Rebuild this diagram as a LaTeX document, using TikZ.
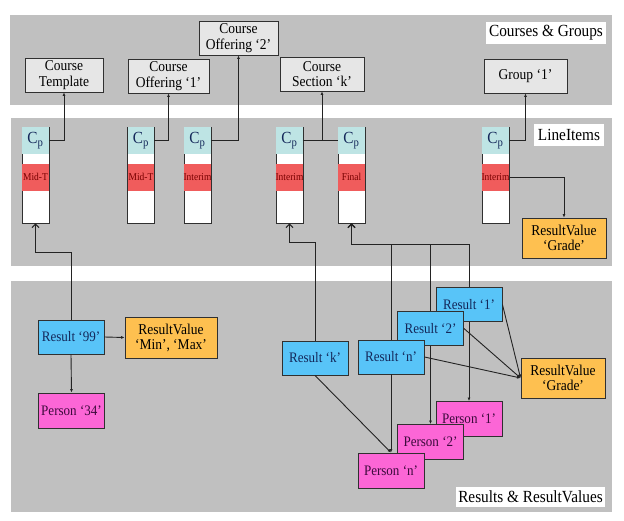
\documentclass[tikz,border=0pt]{standalone}
\usepackage{fontspec}
\setmainfont[FakeStretch=0.9]{Liberation Serif}
\usepackage{xcolor}
\usepackage{tikz}
\usetikzlibrary{positioning}
\usetikzlibrary{arrows.meta,shapes}
\usetikzlibrary{calc}
\definecolor{panelgray}{RGB}{192,192,192}
\definecolor{coursegray}{RGB}{230,230,230}
\definecolor{cpcyan}{RGB}{190,228,228}
\definecolor{gradered}{RGB}{240,92,92}
\definecolor{resultblue}{RGB}{88,196,248}
\definecolor{valueorange}{RGB}{254,192,80}
\definecolor{personpink}{RGB}{252,102,214}
\definecolor{boxline}{RGB}{48,48,48}
\definecolor{linegray}{RGB}{35,35,35}
\definecolor{navytext}{RGB}{20,40,90}
\definecolor{darkred}{RGB}{120,0,0}
\definecolor{purpletext}{RGB}{60,10,60}
\tikzstyle{tag}=[rectangle,fill=white,inner sep=0pt,font=\fontsize{17}{19}\selectfont]
\tikzstyle{course}=[rectangle,draw=boxline,line width=0.9pt,fill=coursegray,align=center,inner sep=0pt,minimum height=34pt,font=\fontsize{15}{15.5}\selectfont]
\tikzstyle{lineitem}=[rectangle,draw=boxline,line width=0.9pt,fill=white,minimum width=27pt,minimum height=96pt,inner sep=0pt]
\tikzstyle{cpcell}=[rectangle,fill=cpcyan,minimum width=26.1pt,minimum height=27pt,inner sep=0pt,font=\fontsize{17}{17}\selectfont,text=navytext]
\tikzstyle{gradecell}=[rectangle,fill=gradered,minimum width=26.1pt,minimum height=27pt,inner sep=0pt,font=\fontsize{10.5}{10.5}\selectfont,text=darkred]
\tikzstyle{result}=[rectangle,draw=boxline,line width=0.9pt,fill=resultblue,minimum width=66pt,minimum height=34pt,inner sep=0pt,font=\fontsize{14.5}{15}\selectfont,text=navytext]
\tikzstyle{person}=[rectangle,draw=boxline,line width=0.9pt,fill=personpink,minimum width=66pt,minimum height=35pt,inner sep=0pt,font=\fontsize{14.5}{15}\selectfont,text=purpletext]
\tikzstyle{value}=[rectangle,draw=boxline,line width=0.9pt,fill=valueorange,minimum width=84pt,minimum height=40pt,inner sep=0pt,align=center,font=\fontsize{15}{15}\selectfont]
\tikzstyle{link} = [draw=linegray,line width=0.9pt,-{Latex[length=3.5pt,width=3pt]}]
\tikzstyle{uplink} = [draw=linegray,line width=1pt,-{Straight Barb[length=3.5pt,width=7pt]}]
\tikzstyle{plainlink} = [draw=linegray,line width=0.9pt]

\begin{document}
\begin{tikzpicture}[x=1pt,y=-1pt,auto,swap]
    \useasboundingbox (0,0) rectangle (624,521);
    % Draw the three gray bands and their titles
    \fill[panelgray] (10,15) rectangle (612,105);
    \fill[panelgray] (11,118) rectangle (612,266);
    \fill[panelgray] (11,281) rectangle (612,512);
    \node[tag,minimum width=120pt,minimum height=22pt] (coursestag) at (546,33) {Courses \& Groups};
    \node[tag,minimum width=70pt,minimum height=22pt] (itemstag) at (569,135) {LineItems};
    \node[tag,minimum width=149pt,minimum height=20pt] (resultstag) at (530.5,497) {Results \& ResultValues};

    % First we draw the courses and the group
    \foreach \pos/\name/\boxw/\label in {{(64,75)/ctemplate/78/Course\\Template},
    {(168.5,76)/coffer1/81/Course\\Offering ‘1’}, {(238.5,38)/coffer2/79/Course\\Offering ‘2’},
    {(322,74)/csection/84/Course\\Section ‘k’}, {(525.5,76)/group1/83/Group ‘1’}}
        \node[course,minimum width=\boxw pt] (\name) at \pos {\label};

    % Then the line item columns
    \foreach \i/\xpos/\label in {1/35.5/Mid-T, 2/141/Mid-T, 3/197.5/Interim,
    4/289.5/Interim, 5/351.5/Final, 6/495.5/Interim}
    {
        \node[lineitem] (li\i) at (\xpos,175) {};
        \node[cpcell,anchor=north] (cp\i) at ($(li\i.north)+(0,0.45)$) {C\textsubscript{p}};
        \node[gradecell,below=9pt of cp\i] (gr\i) {\label};
    }
    \node[value] (gradeval) at (564,238) {ResultValue\\‘Grade’};

    % Results, values and persons (back ones first)
    \foreach \pos/\name/\label in {{(71,337)/result99/Result ‘99’}, {(315,358)/resk/Result ‘k’},
    {(469,304.5)/res1/Result ‘1’}, {(430.5,328.5)/res2/Result ‘2’}, {(391,357)/resn/Result ‘n’}}
        \node[result] (\name) at \pos {\label};
    \foreach \pos/\name/\label in {{(71.5,410.5)/person34/Person ‘34’},
    {(469,419)/person1/Person ‘1’}, {(430.5,442)/person2/Person ‘2’}, {(391,470.5)/personn/Person ‘n’}}
        \node[person] (\name) at \pos {\label};
    \node[value,minimum width=92pt,minimum height=41pt] (minmax) at (171,337.5) {ResultValue\\‘Min’, ‘Max’};
    \node[value] (gradeval2) at (563,378) {ResultValue\\‘Grade’};

    % Connect line items with courses and groups
    \foreach \source/\dest in {cp1/ctemplate, cp2/coffer1, cp3/coffer2, cp4/csection, cp6/group1}
        \path[link] (\source.east) -| (\dest.south);
    \path[plainlink] (cp4.east) -- (cp5.west);
    \path[link] (gr6.east) -| (gradeval.north);

    % Results point up to their line items
    \coordinate (midtin) at ($(li1.south)+(0,29)$);
    \coordinate (interimin) at ($(li4.south)+(0,19)$);
    \coordinate (finalin) at ($(li5.south)+(0,21)$);
    \path[uplink] (result99.north) |- (midtin) -- (li1.south);
    \path[uplink] (resk.north) |- (interimin) -- (li4.south);
    \foreach \source in {res1,res2,resn}
        \path[uplink] (\source.north) |- (finalin) -- (li5.south);

    % Results to persons and values
    \path[link] (result99.east) -- (minmax.west);
    \path[link] (result99.south) -- (person34.north);
    \path[link] (resk.south) -- (personn.north);
    \foreach \source/\dest in {res1/person1, res2/person2, resn/personn}
        \path[link] (\source.south) -- (\dest.north);
    \foreach \source in {res1,res2,resn}
        \path[link] (\source.east) -- (gradeval2.west);
\end{tikzpicture}
\end{document}
